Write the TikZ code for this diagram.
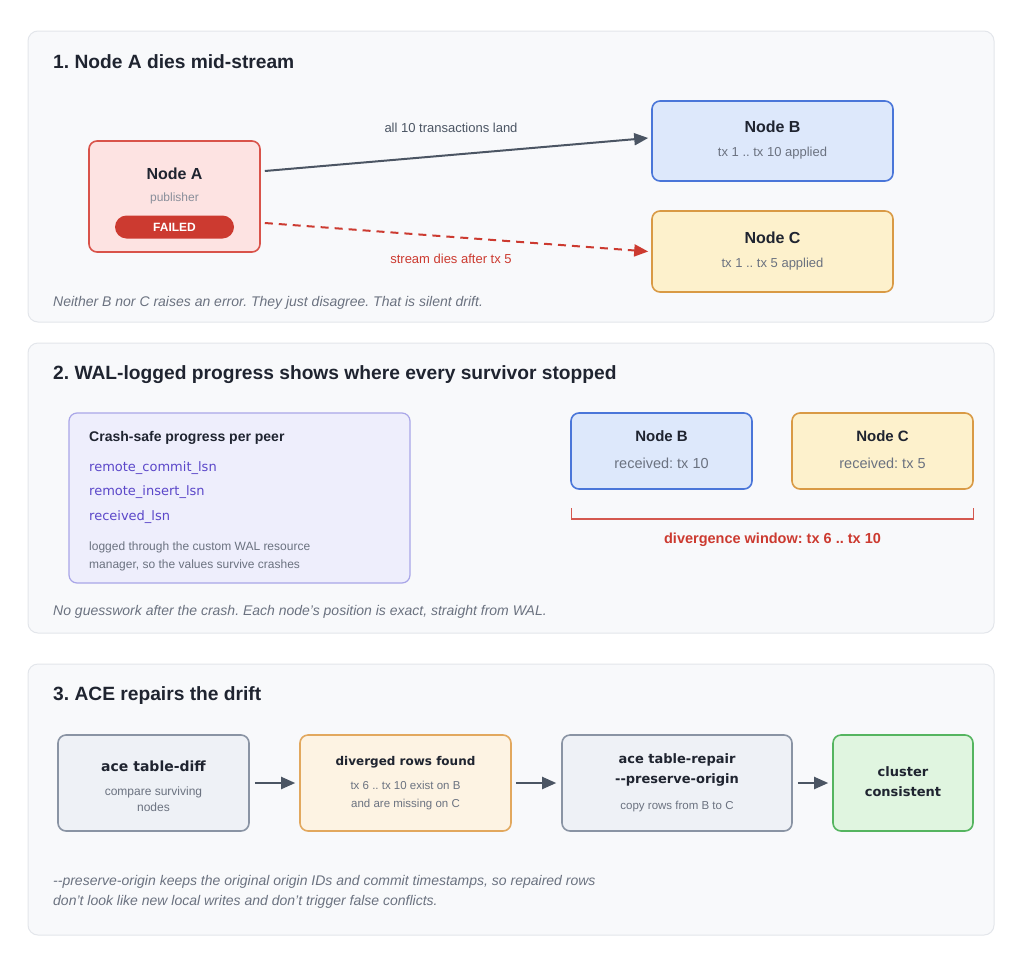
\documentclass[tikz,border=0pt]{standalone}
\usepackage{fontspec}
\setmainfont{Liberation Sans}
\newfontfamily\dejavu{DejaVu Sans}
\usetikzlibrary{arrows.meta}
\frenchspacing
\definecolor{panelfill}{HTML}{F8F9FB}
\definecolor{panelline}{HTML}{E3E6EB}
\definecolor{ink}{HTML}{1F2430}
\definecolor{muted}{HTML}{6B7280}
\definecolor{arrowc}{HTML}{4B5563}
\definecolor{redfill}{HTML}{FDE3E2}
\definecolor{redline}{HTML}{D9534A}
\definecolor{reddark}{HTML}{CC3A30}
\definecolor{bluefill}{HTML}{DDE8FB}
\definecolor{blueline}{HTML}{4A76D9}
\definecolor{yelfill}{HTML}{FDF1CC}
\definecolor{yelline}{HTML}{D99A45}
\definecolor{lavfill}{HTML}{EEEEFC}
\definecolor{lavline}{HTML}{A9A6E8}
\definecolor{lavtext}{HTML}{5B47C9}
\definecolor{grayfill}{HTML}{EEF1F6}
\definecolor{grayline}{HTML}{8A94A4}
\definecolor{orfill}{HTML}{FDF3E3}
\definecolor{orline}{HTML}{E2A85E}
\definecolor{grfill}{HTML}{E0F5E0}
\definecolor{grline}{HTML}{55B560}
\tikzset{
  panel/.style={draw=panelline, fill=panelfill, line width=1pt, rounded corners=10pt, inner sep=0pt},
  box/.style={line width=1.6pt, rounded corners=8pt, inner sep=0pt},
  title/.style={font=\fontsize{19.2}{23}\selectfont\bfseries, text=ink, anchor=west, inner sep=0pt},
  nodetitle/.style={font=\fontsize{16}{19}\selectfont\bfseries, text=ink, inner sep=0pt},
  sub/.style={font=\fontsize{13}{16}\selectfont, text=muted, inner sep=0pt},
  caption/.style={font=\fontsize{14}{20}\selectfont\itshape, text=muted, anchor=west, inner sep=0pt, align=left},
  flow/.style={draw=arrowc, line width=2pt, -{Triangle[length=14pt,width=12pt]}},
}
\begin{document}
\begin{tikzpicture}[x=1pt,y=-1pt]
\useasboundingbox[fill=white] (0,0) rectangle (1024,969);

% ---------------- Panel 1
\node[panel, minimum width=966pt, minimum height=291pt] (p1) at (511,176.5) {};
\node[title] (t1) at (53,62) {1. Node A dies mid-stream};

\node[box, draw=redline, fill=redfill, minimum width=171pt, minimum height=111pt] (A) at (174.5,196.5) {};
\node[nodetitle] (Al) at (174.5,174) {Node A};
\node[sub, text=muted!80, font=\fontsize{12}{15}\selectfont] (As) at (174.5,198) {publisher};
\node[fill=reddark, rounded corners=11.5pt, minimum width=119pt, minimum height=23pt, inner sep=0pt,
      text=white, font=\fontsize{12}{14}\selectfont\bfseries] (fail) at (174.5,227) {FAILED};

\node[box, draw=blueline, fill=bluefill, minimum width=241pt, minimum height=80pt] (B) at (772.5,141) {};
\node[nodetitle] (Bl) at (772.5,127) {Node B};
\node[sub] (Bs) at (772.5,153) {tx 1 .. tx 10 applied};

\node[box, draw=yelline, fill=yelfill, minimum width=241pt, minimum height=81pt] (C) at (772.5,251.5) {};
\node[nodetitle] (Cl) at (772.5,238) {Node C};
\node[sub] (Cs) at (772.5,264) {tx 1 .. tx 5 applied};

\draw[flow] ([xshift=4pt,yshift=25.5pt]A.east) -- ([xshift=-3pt,yshift=3pt]B.west);
\node[sub, text=arrowc] (l1) at (451,128) {all 10 transactions land};
\draw[draw=reddark, line width=2pt, dash pattern=on 8pt off 6pt, -{Triangle[length=14pt,width=12pt]}]
  ([xshift=4pt,yshift=-26.5pt]A.east) -- ([xshift=-3pt]C.west);
\node[sub, text=reddark] (l2) at (451,259) {stream dies after tx 5};

\node[caption] (c1) at (53,303) {Neither B nor C raises an error. They just disagree. That is silent drift.};

% ---------------- Panel 2
\node[panel, minimum width=966pt, minimum height=290pt] (p2) at (511,488) {};
\node[title] (t2) at (53,375) {2. WAL-logged progress shows where every survivor stopped};

\node[box, draw=lavline, fill=lavfill, line width=1.2pt, minimum width=341pt, minimum height=170pt] (W) at (239.5,498) {};
\node[font=\fontsize{14}{17}\selectfont\bfseries, text=ink, anchor=west, inner sep=0pt] (Wt) at (89,438) {Crash-safe progress per peer};
\node[font=\dejavu\fontsize{13}{16}\selectfont, text=lavtext, anchor=west, inner sep=0pt] (w1) at (89,468) {remote\_commit\_lsn};
\node[font=\dejavu\fontsize{13}{16}\selectfont, text=lavtext, anchor=west, inner sep=0pt] (w2) at (89,492) {remote\_insert\_lsn};
\node[font=\dejavu\fontsize{13}{16}\selectfont, text=lavtext, anchor=west, inner sep=0pt] (w3) at (89,517) {received\_lsn};
\node[font=\fontsize{12}{17.5}\selectfont, text=muted, anchor=west, inner sep=0pt, align=left] (w4) at (89,556.5)
  {logged through the custom WAL resource\\manager, so the values survive crashes};

\node[box, draw=blueline, fill=bluefill, minimum width=181pt, minimum height=76pt] (B2) at (661.5,451) {};
\node[nodetitle, font=\fontsize{15}{18}\selectfont\bfseries] (B2l) at (661.5,436) {Node B};
\node[sub, font=\fontsize{14.5}{17}\selectfont] (B2s) at (661.5,463) {received: tx 10};

\node[box, draw=yelline, fill=yelfill, minimum width=181pt, minimum height=76pt] (C2) at (882.5,451) {};
\node[nodetitle, font=\fontsize{15}{18}\selectfont\bfseries] (C2l) at (882.5,436) {Node C};
\node[sub, font=\fontsize{14.5}{17}\selectfont] (C2s) at (882.5,463) {received: tx 5};

\coordinate (bl) at (571.5,519);
\coordinate (br) at (973.5,519);
\draw[draw=reddark!85, line width=1.8pt] ([yshift=11pt]bl) -- (bl) -- (br) -- ([yshift=11pt]br);
\node[font=\fontsize{14.5}{17}\selectfont\bfseries, text=reddark, inner sep=0pt] (dw) at (772.5,540) {divergence window: tx 6 .. tx 10};

\node[caption] (c2) at (53,612) {No guesswork after the crash. Each node's position is exact, straight from WAL.};

% ---------------- Panel 3
\node[panel, minimum width=966pt, minimum height=271pt] (p3) at (511,799.5) {};
\node[title] (t3) at (53,696) {3. ACE repairs the drift};

\node[box, draw=grayline, fill=grayfill, minimum width=191pt, minimum height=96pt] (D) at (153.5,783) {};
\node[font=\dejavu\fontsize{14}{17}\selectfont\bfseries, text=ink, inner sep=0pt] (Dl) at (153.5,766) {ace table-diff};
\node[sub, align=center, font=\fontsize{12}{16}\selectfont] (Ds) at (153.5,799) {compare surviving\\nodes};

\node[box, draw=orline, fill=orfill, minimum width=211pt, minimum height=96pt] (E) at (405.5,783) {};
\node[font=\dejavu\fontsize{12}{16}\selectfont\bfseries, text=ink, inner sep=0pt] (El) at (405.5,762) {diverged rows found};
\node[sub, align=center, font=\fontsize{11.5}{18}\selectfont] (Es) at (405.5,796) {tx 6 .. tx 10 exist on B\\and are missing on C};

\node[box, draw=grayline, fill=grayfill, minimum width=230pt, minimum height=96pt] (F) at (677,783) {};
\node[font=\dejavu\fontsize{13}{20}\selectfont\bfseries, text=ink, inner sep=0pt, align=center] (Fl) at (677,770) {ace table-repair\\-{}-preserve-origin};
\node[sub, font=\fontsize{11.5}{14}\selectfont] (Fs) at (677,807) {copy rows from B to C};

\node[box, draw=grline, fill=grfill, minimum width=140pt, minimum height=96pt] (G) at (903,783) {};
\node[font=\dejavu\fontsize{13}{20}\selectfont\bfseries, text=ink, inner sep=0pt, align=center] (Gl) at (903,782) {cluster\\consistent};

\draw[flow] ([xshift=5pt]D.east) -- ([xshift=-4pt]E.west);
\draw[flow] ([xshift=4pt]E.east) -- ([xshift=-5pt]F.west);
\draw[flow] ([xshift=5pt]F.east) -- ([xshift=-4pt]G.west);

\node[caption] (c3) at (53,892) {-{}-preserve-origin keeps the original origin IDs and commit timestamps, so repaired rows\\don't look like new local writes and don't trigger false conflicts.};
\end{tikzpicture}
\end{document}
